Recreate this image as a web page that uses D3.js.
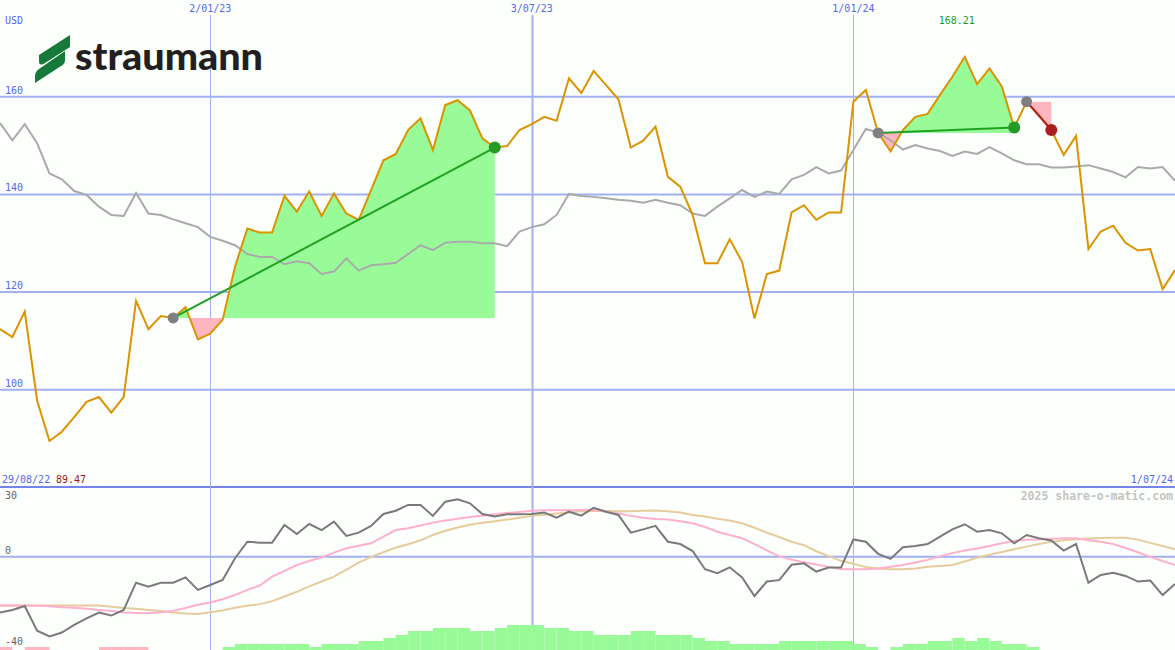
<!DOCTYPE html>
<html>
<head>
<meta charset="utf-8">
<script src="https://cdn.jsdelivr.net/npm/d3@7"></script>
<style>
  html, body { margin: 0; padding: 0; background: #fdfffd; }
  svg { display: block; }
  text { font-family: "DejaVu Sans Mono", monospace; }
</style>
</head>
<body>
<svg id="chart" width="1175" height="650"></svg>
<script>
// ---------------- DATA ----------------
const startDate = Date.UTC(2022, 8, 5);
const endDate = Date.UTC(2024, 6, 1);
const firstLabel = "29/08/22";
const lastLabel = "1/07/24";
const minLabel = "89.47";
const maxLabel = "168.21";
const currency = "USD";

// weekly closing prices (USD)
const price = [
  112.4, 110.8, 116.0, 97.8, 89.5, 91.4, 94.4, 97.5, 98.5, 95.3,
  98.5, 118.2, 112.4, 115.1, 114.7, 116.9, 110.3, 111.5, 114.3, 125.2,
  133.0, 132.2, 132.2, 139.7, 136.5, 140.6, 135.6, 140.2, 136.1, 134.8,
  140.9, 147.0, 148.3, 153.2, 155.6, 149.1, 158.3, 159.3, 157.2, 151.5,
  149.6, 149.9, 153.2, 154.4, 155.9, 155.1, 163.8, 160.8, 165.3, 162.4,
  159.5, 149.6, 151.0, 153.9, 143.6, 141.6, 135.8, 125.9, 125.9, 130.8,
  126.2, 114.6, 123.7, 124.4, 136.3, 137.8, 134.8, 136.3, 136.3, 159.0,
  161.4, 152.6, 148.8, 153.2, 155.9, 156.5, 160.4, 164.1, 168.2, 162.6,
  165.8, 162.1, 153.7, 159.0, 156.3, 153.2, 148.1, 152.0, 128.8, 132.4,
  133.6, 130.1, 128.5, 128.8, 120.6, 124.5
];
// comparison index (rebased)
const benchmark = [
  154.6, 151.1, 154.4, 150.5, 144.3, 143.1, 140.7, 139.9, 137.5, 135.8,
  135.6, 140.3, 136.1, 135.8, 134.9, 134.1, 133.3, 131.3, 130.5, 129.6,
  127.8, 127.2, 127.2, 125.7, 126.3, 125.9, 123.7, 124.2, 126.9, 124.4,
  125.5, 125.7, 126.0, 127.8, 129.6, 128.6, 130.1, 130.3, 130.3, 130.0,
  130.0, 129.4, 132.4, 133.3, 133.9, 135.8, 140.1, 139.7, 139.5, 139.2,
  138.9, 138.7, 138.3, 138.9, 138.3, 137.8, 136.1, 135.6, 137.5, 139.2,
  140.9, 139.5, 140.6, 140.1, 143.1, 144.0, 145.6, 144.3, 144.9, 149.1,
  153.4, 152.7, 151.1, 149.2, 150.1, 149.4, 148.9, 147.9, 148.8, 148.3,
  149.7, 148.4, 147.0, 146.2, 146.2, 145.5, 145.5, 145.7, 146.0, 145.3,
  144.6, 143.5, 145.6, 145.3, 145.6, 142.8
];
// lower panel oscillator
const oscillator = [
  -23.9, -22.8, -21.1, -31.7, -34.2, -32.5, -29.2, -26.4, -23.9, -25.2,
  -22.8, -11.1, -12.8, -11.1, -11.1, -8.8, -14.2, -12.1, -9.9, -0.6,
  6.5, 6.1, 6.1, 13.7, 9.8, 14.1, 11.5, 15.1, 9.0, 10.4,
  13.3, 18.4, 19.8, 22.3, 22.3, 17.6, 23.7, 24.7, 23.0, 18.4,
  17.3, 18.3, 18.3, 18.4, 19.0, 16.8, 19.4, 17.7, 21.1, 19.4,
  18.0, 10.4, 11.8, 13.3, 6.5, 5.5, 2.5, -5.3, -7.0, -4.5,
  -8.8, -16.8, -10.6, -10.0, -3.4, -2.8, -6.3, -4.6, -4.6, 7.5,
  6.5, 1.3, -0.9, 4.1, 4.7, 5.5, 8.7, 11.8, 14.0, 10.8,
  11.5, 10.1, 5.8, 9.4, 8.0, 7.0, 2.7, 5.5, -11.1, -7.8,
  -6.8, -8.2, -10.6, -10.2, -16.4, -11.6
];
const signalFast = [
  -20.9, -20.9, -20.9, -21.0, -21.2, -21.6, -21.9, -22.3, -22.8, -23.3,
  -23.9, -24.1, -24.2, -23.8, -23.2, -22.0, -20.6, -19.6, -18.2, -16.4,
  -14.2, -12.3, -8.5, -6.0, -3.5, -1.8, -0.2, 1.8, 3.7, 4.8,
  5.8, 8.7, 11.5, 12.3, 13.5, 14.7, 15.6, 16.4, 17.1, 17.7,
  18.3, 18.8, 19.3, 19.8, 20.0, 20.0, 20.0, 20.1, 20.1, 19.4,
  18.6, 17.6, 16.8, 16.3, 16.0, 15.3, 14.4, 12.8, 10.8, 9.4,
  8.0, 5.5, 2.8, 0.2, -1.2, -2.3, -3.3, -4.3, -5.3, -5.3,
  -5.3, -5.0, -4.2, -3.5, -2.4, -1.3, 0.2, 1.6, 2.7, 3.6,
  4.7, 5.8, 6.9, 7.3, 7.5, 7.8, 8.0, 8.0, 7.1, 6.5,
  5.5, 3.8, 2.0, 0.0, -1.8, -3.5
];
const signalSlow = [
  -20.9, -20.9, -20.9, -20.9, -20.9, -20.9, -20.9, -20.9, -20.9, -21.4,
  -22.0, -22.3, -22.8, -23.3, -23.9, -24.3, -24.5, -23.8, -23.0, -21.9,
  -21.0, -20.3, -19.0, -17.0, -15.0, -12.7, -10.6, -8.5, -5.5, -2.5,
  0.0, 2.0, 4.0, 5.4, 7.1, 9.4, 11.2, 12.6, 13.8, 14.6,
  15.3, 16.0, 16.8, 17.6, 18.1, 18.6, 19.0, 19.6, 19.7, 19.7,
  19.6, 19.6, 19.8, 19.9, 19.6, 19.0, 18.0, 17.3, 16.4, 15.6,
  14.4, 12.5, 10.4, 8.5, 6.5, 5.0, 2.4, 0.3, -1.7, -3.0,
  -4.4, -5.0, -5.3, -5.3, -5.0, -4.3, -3.9, -3.5, -2.0, -0.4,
  0.9, 2.1, 3.3, 4.4, 5.5, 6.5, 7.1, 7.6, 7.9, 8.1,
  8.2, 8.2, 7.4, 6.0, 4.7, 3.3
];
// histogram strength (positive = green, negative = pink)
const histogram = [
  -3, 0, -3, -3, 0, 0, 0, 0, -3, -3,
  -3, -3, 0, 0, 0, 0, 0, 0, 3, 6,
  6, 6, 6, 6, 6, 3, 6, 6, 6, 9,
  9, 12, 15, 19, 19, 22, 22, 22, 19, 19,
  22, 25, 25, 25, 22, 22, 19, 19, 15, 15,
  15, 19, 19, 15, 15, 15, 12, 9, 9, 6,
  6, 6, 6, 9, 9, 9, 9, 9, 9, 6,
  3, 0, 3, 6, 6, 9, 9, 12, 9, 12,
  9, 6, 6, 3, 0, 0, 0, 0, 0, 0,
  0, 0, 0, 0, 0, 0
];
// trades (week indices)
const tradeEntry = [14, 71, 83];
const tradeExit = [40, 82, 85];
const tradeWin = [true, true, false];

const priceTicks = [100, 120, 140, 160];
const oscTicks = [30, 0, -40];
const gridDates = [Date.UTC(2023, 0, 2), Date.UTC(2023, 6, 3), Date.UTC(2024, 0, 1)];
const gridLabels = ["2/01/23", "3/07/23", "1/01/24"];
const gridWidths = [1, 2, 1];

// ---------------- DRAW ----------------
const W = 1175, H = 650;
const dates = price.map((_, i) => d3.utcWeek.offset(new Date(startDate), i));
const x = d3.scaleUtc().domain([new Date(startDate), new Date(endDate)]).range([0, W]);
const y = d3.scaleLinear().domain([100, 160]).range([389.7, 96.8]);
const y2 = d3.scaleLinear().domain([-40, 30]).range([650, 487]);
const yh = d3.scaleLinear().domain([0, 25]).range([650, 625]);

const svg = d3.select("#chart");
svg.append("rect").attr("width", W).attr("height", H).attr("fill", "#fdfffd");

const gridCol = "#a3b1f1";
const blueText = "#5566ee";

// horizontal grid - price
svg.append("g").selectAll("line").data(priceTicks).join("line")
  .attr("x1", 0).attr("x2", W)
  .attr("y1", d => y(d)).attr("y2", d => y(d))
  .attr("stroke", gridCol).attr("stroke-width", 2);
svg.append("g").selectAll("text").data(priceTicks).join("text")
  .attr("x", 5).attr("y", d => y(d) - 3)
  .attr("font-size", 10).attr("fill", blueText).text(d => d);

// lower panel zero line & separator
svg.append("line").attr("x1", 0).attr("x2", W).attr("y1", y2(0)).attr("y2", y2(0))
  .attr("stroke", gridCol).attr("stroke-width", 2);
svg.append("line").attr("x1", 0).attr("x2", W).attr("y1", y2(30)).attr("y2", y2(30))
  .attr("stroke", "#7584ea").attr("stroke-width", 2);
svg.append("g").selectAll("text").data(oscTicks).join("text")
  .attr("x", 5).attr("y", d => d === 30 ? y2(d) + 12 : (d === 0 ? y2(d) - 3 : y2(d) - 5))
  .attr("font-size", 10).attr("fill", "#666").text(d => d);

// vertical grid
svg.append("g").selectAll("line").data(gridDates).join("line")
  .attr("x1", d => Math.round(x(new Date(d))) + 0.5).attr("x2", d => Math.round(x(new Date(d))) + 0.5)
  .attr("y1", 15).attr("y2", H)
  .attr("stroke", gridCol).attr("stroke-width", (d, i) => gridWidths[i]);
svg.append("g").selectAll("text").data(gridDates).join("text")
  .attr("x", d => x(new Date(d))).attr("y", 12).attr("text-anchor", "middle")
  .attr("font-size", 10).attr("fill", blueText).text((d, i) => gridLabels[i]);

// histogram
svg.append("g").selectAll("rect").data(histogram.map((v, i) => ({ v, i })).filter(d => d.v !== 0)).join("rect")
  .attr("x", d => x(dates[d.i]))
  .attr("width", d => x(d3.utcWeek.offset(dates[d.i], 1)) - x(dates[d.i]))
  .attr("y", d => yh(Math.abs(d.v)))
  .attr("height", d => yh(0) - yh(Math.abs(d.v)))
  .attr("fill", d => d.v > 0 ? "#98fb98" : "#ffb6c1");

// trade fills
const defs = svg.append("defs");
tradeEntry.forEach((e, t) => {
  const ex = tradeExit[t];
  const lvl = price[e];
  const idx = d3.range(e, ex + 1);
  const area = d3.area().x(i => x(dates[i])).y0(y(lvl)).y1(i => y(price[i]));
  defs.append("clipPath").attr("id", "up" + t).append("rect")
    .attr("x", 0).attr("y", 0).attr("width", W).attr("height", y(lvl));
  defs.append("clipPath").attr("id", "dn" + t).append("rect")
    .attr("x", 0).attr("y", y(lvl)).attr("width", W).attr("height", H - y(lvl));
  svg.append("path").datum(idx).attr("d", area).attr("fill", "#98fb98").attr("clip-path", `url(#up${t})`);
  svg.append("path").datum(idx).attr("d", area).attr("fill", "#ffb6c1").attr("clip-path", `url(#dn${t})`);
});

// lower lines
const lineLow = arr => d3.line().x((d, i) => x(dates[i])).y(d => y2(d))(arr);
svg.append("path").attr("d", lineLow(signalSlow)).attr("fill", "none").attr("stroke", "#e6cc9c").attr("stroke-width", 2);
svg.append("path").attr("d", lineLow(signalFast)).attr("fill", "none").attr("stroke", "#ffb0cc").attr("stroke-width", 2);
svg.append("path").attr("d", lineLow(oscillator)).attr("fill", "none").attr("stroke", "#7a7a7a").attr("stroke-width", 2);

// price lines
const lineP = arr => d3.line().x((d, i) => x(dates[i])).y(d => y(d))(arr);
svg.append("path").attr("d", lineP(benchmark)).attr("fill", "none").attr("stroke", "#aaaaaa").attr("stroke-width", 2);
svg.append("path").attr("d", lineP(price)).attr("fill", "none").attr("stroke", "#dc9300").attr("stroke-width", 2);

// trade lines & markers
tradeEntry.forEach((e, t) => {
  const ex = tradeExit[t];
  svg.append("line")
    .attr("x1", x(dates[e])).attr("y1", y(price[e]))
    .attr("x2", x(dates[ex])).attr("y2", y(price[ex]))
    .attr("stroke", tradeWin[t] ? "#22a022" : "#a82020").attr("stroke-width", 2);
});
tradeEntry.forEach((e, t) => {
  const ex = tradeExit[t];
  svg.append("circle").attr("cx", x(dates[e])).attr("cy", y(price[e])).attr("r", 5.5).attr("fill", "#808080");
  svg.append("circle").attr("cx", x(dates[ex])).attr("cy", y(price[ex])).attr("r", 6)
    .attr("fill", tradeWin[t] ? "#259a25" : "#a81e1e");
});

// header texts
svg.append("text").attr("x", 5).attr("y", 24).attr("font-size", 10).attr("fill", blueText).text(currency);
const maxIdx = d3.maxIndex(price);
svg.append("text").attr("x", x(dates[maxIdx]) - 8).attr("y", 24).attr("text-anchor", "middle")
  .attr("font-size", 10).attr("fill", "#1f9a1f").text(maxLabel);
svg.append("text").attr("x", 2).attr("y", 483).attr("font-size", 10).attr("fill", blueText).text(firstLabel);
svg.append("text").attr("x", 56).attr("y", 483).attr("font-size", 10).attr("fill", "#a01818").text(minLabel);
svg.append("text").attr("x", 1173).attr("y", 483).attr("text-anchor", "end").attr("font-size", 10).attr("fill", blueText).text(lastLabel);
svg.append("text").attr("x", 1173).attr("y", 500).attr("text-anchor", "end").attr("font-size", 11.5)
  .attr("font-weight", "bold").attr("fill", "#c4c4c4").text("2025 share-o-matic.com");

// logo
const logo = svg.append("g");
logo.append("path").attr("d", "M70,35 L70,47 L45,63 Q39,67 39,61 L39,55 Z").attr("fill", "#16793a");
logo.append("path").attr("d", "M65,51 L65,60 Q65,64 61,66 L35,83 L35,76 Q35,72 39,69 Z").attr("fill", "#16793a");
logo.append("text").attr("x", 75).attr("y", 70)
  .style("font-family", "Lato, 'Open Sans', 'DejaVu Sans', sans-serif")
  .style("font-weight", "900").attr("font-size", 38).attr("fill", "#231f20")
  .attr("textLength", 188).attr("lengthAdjust", "spacingAndGlyphs").text("straumann");
</script>
</body>
</html>
